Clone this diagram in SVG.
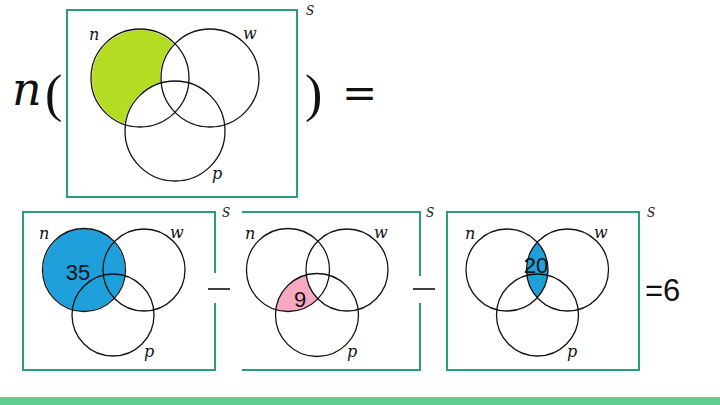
<svg xmlns="http://www.w3.org/2000/svg" width="720" height="405" viewBox="0 0 720 405">
<style>
.box{fill:none;stroke:#2a9d7c;stroke-width:2}
.c{fill:none;stroke:#111;stroke-width:1.3}
.lbl{font-family:"DejaVu Serif",serif;font-style:italic;font-size:16px;fill:#111}
.s{font-family:"DejaVu Serif",serif;font-style:italic;font-size:12px;fill:#111}
.num{font-family:"Liberation Sans",Arial,sans-serif;font-size:22px;fill:#111;text-anchor:middle}
.math{font-family:"DejaVu Serif","Liberation Serif",serif;fill:#111}
.minus{stroke:#111;stroke-width:1.6}
</style>
<defs>
<mask id="mTop">
<rect x="0" y="0" width="720" height="405" fill="#fff"/>
<circle cx="210" cy="78" r="50" fill="#000"/>
<circle cx="175" cy="131" r="51" fill="#000"/>
</mask>
<mask id="mB2">
<rect x="0" y="0" width="720" height="405" fill="#fff"/>
<circle cx="347" cy="270" r="41" fill="#000"/>
</mask>
<clipPath id="cB2"><circle cx="288" cy="270" r="41.5"/></clipPath>
<clipPath id="cB3"><circle cx="507" cy="270" r="41"/></clipPath>
</defs>
<rect x="0" y="0" width="720" height="405" fill="#fff"/>
<rect x="0" y="397" width="720" height="8" fill="#5fcf94"/>

<g id="lhs">
<text class="math" x="12" y="105" font-size="46" font-style="italic">n</text>
<text x="45" y="111" font-family="Liberation Serif,serif" font-size="52" fill="#111">(</text>
<text x="305" y="111" font-family="Liberation Serif,serif" font-size="52" fill="#111">)</text>
<text class="math" x="342" y="108" font-size="42">=</text>
</g>

<g id="venn-top">
<rect class="box" x="67" y="10" width="230" height="187"/>
<circle cx="140" cy="78" r="48" fill="#b4dc22" mask="url(#mTop)"/>
<circle class="c" cx="140" cy="78" r="49"/>
<circle class="c" cx="210" cy="78" r="49"/>
<circle class="c" cx="175" cy="131" r="50"/>
<text class="lbl" x="89" y="40">n</text>
<text class="lbl" x="243" y="39">w</text>
<text class="lbl" x="212" y="179">p</text>
<text class="s" x="306" y="15">S</text>
</g>

<g id="venn-1">
<path class="box" d="M215,273 V212 H23 V370 H215 V303"/>
<circle cx="84" cy="270" r="41" fill="#1fa0da"/>
<circle class="c" cx="84" cy="270" r="41.5"/>
<circle class="c" cx="144" cy="270" r="41"/>
<circle class="c" cx="113" cy="315" r="41"/>
<text class="lbl" x="39" y="239">n</text>
<text class="lbl" x="170" y="238">w</text>
<text class="lbl" x="144" y="357">p</text>
<text class="s" x="222" y="217">S</text>
<text class="num" x="78" y="280">35</text>
</g>

<g id="venn-2">
<path class="box" d="M242,212 H420 V276 M420,303 V370 H242"/>
<circle cx="317" cy="315" r="41.5" fill="#f7a9c2" clip-path="url(#cB2)" mask="url(#mB2)"/>
<circle class="c" cx="288" cy="270" r="41.5"/>
<circle class="c" cx="347" cy="270" r="41"/>
<circle class="c" cx="317" cy="315" r="41.5"/>
<text class="lbl" x="245" y="239">n</text>
<text class="lbl" x="374" y="238">w</text>
<text class="lbl" x="347" y="357">p</text>
<text class="s" x="426" y="217">S</text>
<text class="num" x="300" y="307">9</text>
</g>

<g id="venn-3">
<rect class="box" x="447" y="212" width="192" height="158"/>
<circle cx="567.5" cy="270" r="41" fill="#1fa0da" clip-path="url(#cB3)"/>
<circle class="c" cx="507" cy="270" r="41"/>
<circle class="c" cx="567.5" cy="270" r="41"/>
<circle class="c" cx="537.5" cy="315" r="41"/>
<text class="lbl" x="465" y="239">n</text>
<text class="lbl" x="594" y="238">w</text>
<text class="lbl" x="567" y="357">p</text>
<text class="s" x="647" y="217">S</text>
<text class="num" x="536" y="273">20</text>
</g>

<g id="ops">
<line class="minus" x1="208" y1="289" x2="230" y2="289"/>
<line class="minus" x1="413" y1="289" x2="435" y2="289"/>
<text x="645" y="301" font-family="Liberation Sans,Arial,sans-serif" font-size="31" fill="#111">=6</text>
</g>
</svg>
